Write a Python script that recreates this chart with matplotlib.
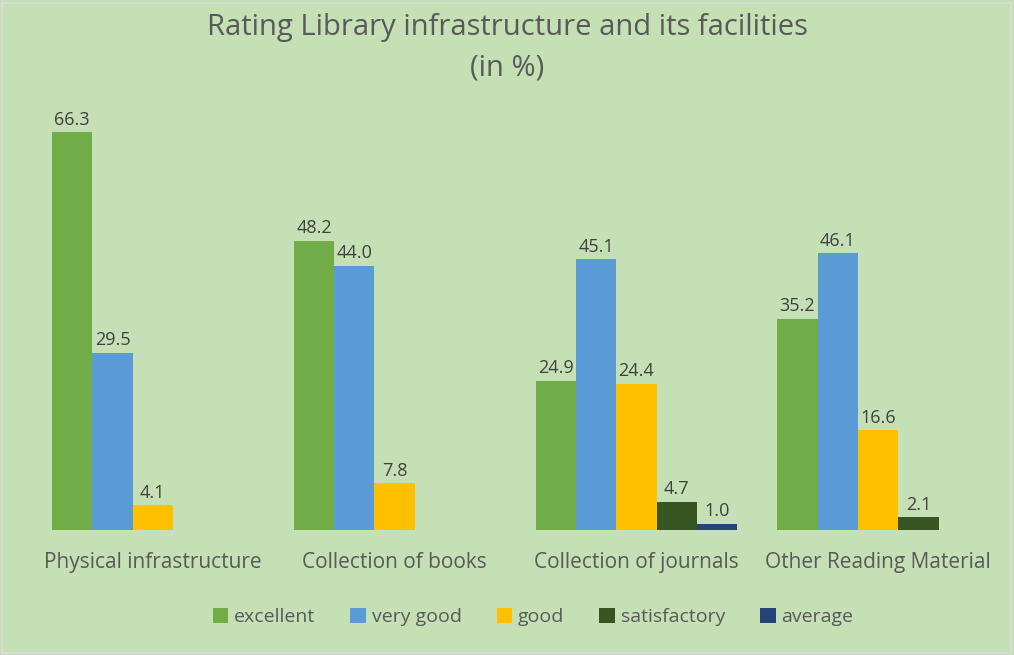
import numpy as np
import matplotlib.pyplot as plt
from matplotlib import font_manager

# Data
categories = ['Physical infrastructure', 'Collection of books',
              'Collection of journals', 'Other Reading Material']
series_names = ['excellent', 'very good', 'good', 'satisfactory', 'average']
excellent = [66.3, 48.2, 24.9, 35.2]
very_good = [29.5, 44.0, 45.1, 46.1]
good = [4.1, 7.8, 24.4, 16.6]
satisfactory = [None, None, 4.7, 2.1]
average = [None, None, 1.0, None]

series = [excellent, very_good, good, satisfactory, average]
colors = ['#70ad47', '#5b9bd5', '#ffc000', '#375623', '#264478']

names = {f.name for f in font_manager.fontManager.ttflist}
font = 'Liberation Sans Narrow' if 'Liberation Sans Narrow' in names else 'Open Sans'
plt.rcParams['font.family'] = [font, 'DejaVu Sans']

bg = '#c5e0b4'
fig = plt.figure(figsize=(10.14, 6.55), dpi=100, facecolor=bg)
ax = fig.add_axes([32 / 1014, 125 / 655, 967 / 1014, 420 / 655])
ax.set_facecolor(bg)

x = np.arange(len(categories))
w = 1 / 6
for i, (name, vals, c) in enumerate(zip(series_names, series, colors)):
    xs = [xi + (i - 2) * w for xi, v in zip(x, vals) if v is not None]
    ys = [v for v in vals if v is not None]
    bars = ax.bar(xs, ys, width=w, color=c, label=name)
    for b, v in zip(bars, ys):
        ax.text(b.get_x() + b.get_width() / 2, v + 0.6, f'{v:.1f}',
                ha='center', va='bottom', fontsize=13, color='#404040')

ax.set_xlim(-0.5, 3.5)
ax.set_ylim(0, 70)
ax.set_yticks([])
ax.set_xticks(x)
ax.set_xticklabels(categories, fontsize=15, color='#595959')
ax.tick_params(axis='x', length=0, pad=16)
for s in ax.spines.values():
    s.set_visible(False)

fig.text(0.5, 1 - 28 / 655, 'Rating Library infrastructure and its facilities',
         ha='center', va='center', fontsize=21, color='#595959', fontweight='medium')
fig.text(0.5, 1 - 68 / 655, '(in %)', ha='center', va='center',
         fontsize=21, color='#595959', fontweight='medium')

fig.legend(loc='center', bbox_to_anchor=(533 / 1014, 1 - 617 / 655), ncol=5,
           frameon=False, fontsize=14, labelcolor='#595959',
           handlelength=0.8, handleheight=0.8, handletextpad=0.3,
           columnspacing=1.8)

fig.patches.append(plt.Rectangle((0.002, 0.003), 0.995, 0.993, transform=fig.transFigure,
                                 fill=False, edgecolor='#d9d9d9', linewidth=1.5))

fig.savefig('out.png', dpi=100, facecolor=bg)
